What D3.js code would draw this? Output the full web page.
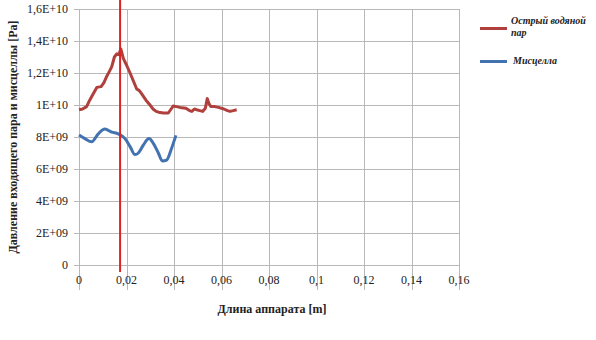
<!DOCTYPE html>
<html><head><meta charset="utf-8">
<script src="https://cdn.jsdelivr.net/npm/d3@7"></script>
</head><body style="margin:0"><svg id="c" width="596" height="340" style="display:block;background:#fff;font-family:'Times New Roman','Liberation Serif',FreeSerif,serif"></svg>
<script>
const xTicks = [0,0.02,0.04,0.06,0.08,0.1,0.12,0.14,0.16];
const xTickLabels = ["0","0,02","0,04","0,06","0,08","0,1","0,12","0,14","0,16"];
const yTicks = [0,2e9,4e9,6e9,8e9,1e10,1.2e10,1.4e10,1.6e10];
const yTickLabels = ["0","2E+09","4E+09","6E+09","8E+09","1E+10","1,2E+10","1,4E+10","1,6E+10"];
const seriesNames = ["Острый водяной пар","Мисцелла"];
const steamX = [0,0.0015,0.0032,0.0045,0.006,0.0075,0.0093,0.0105,0.0117,0.0128,0.0138,0.0149,0.0159,0.0168,0.0176,0.0187,0.02,0.0215,0.0229,0.0243,0.0254,0.0264,0.0282,0.0299,0.0313,0.0325,0.0335,0.0355,0.0376,0.0388,0.0397,0.041,0.0425,0.045,0.0465,0.0475,0.0486,0.0496,0.0508,0.0521,0.0532,0.054,0.0547,0.0555,0.0572,0.0587,0.061,0.0625,0.0636,0.065,0.0664];
const steamY = [9.7e9,9.75e9,9.9e9,10.3e9,10.7e9,11.1e9,11.15e9,11.4e9,11.8e9,12.1e9,12.4e9,13.0e9,13.2e9,13.15e9,13.5e9,12.9e9,12.5e9,12.0e9,11.5e9,11.0e9,10.9e9,10.7e9,10.3e9,10.0e9,9.73e9,9.6e9,9.55e9,9.5e9,9.5e9,9.75e9,9.94e9,9.9e9,9.85e9,9.8e9,9.65e9,9.6e9,9.75e9,9.7e9,9.65e9,9.6e9,9.8e9,10.4e9,10.1e9,9.9e9,9.9e9,9.85e9,9.75e9,9.65e9,9.6e9,9.65e9,9.7e9];
const miscX = [0,0.0025,0.0053,0.0081,0.0109,0.0138,0.0165,0.0194,0.0215,0.0236,0.025,0.0271,0.0295,0.0313,0.0334,0.0351,0.0369,0.039,0.0408];
const miscY = [8.13e9,7.9e9,7.7e9,8.2e9,8.5e9,8.3e9,8.2e9,7.9e9,7.4e9,6.9e9,7.0e9,7.5e9,7.9e9,7.6e9,7.0e9,6.5e9,6.56e9,7.3e9,8.1e9];
const markerX = [0.0173];

const svg = d3.select("#c");
const x = d3.scaleLinear().domain([0,0.16]).range([79,459]);
const y = d3.scaleLinear().domain([0,1.6e10]).range([265,9]);
const SERIF = "'Times New Roman','Liberation Serif',FreeSerif,serif";

// grid
svg.append("g").selectAll("line").data(yTicks).join("line")
  .attr("x1",74).attr("x2",459).attr("y1",d=>y(d)+0.5).attr("y2",d=>y(d)+0.5)
  .attr("stroke","#b8b8b8").attr("stroke-width",1);
svg.append("g").selectAll("line").data(xTicks).join("line")
  .attr("x1",d=>Math.round(x(d))+0.5).attr("x2",d=>Math.round(x(d))+0.5).attr("y1",9).attr("y2",290)
  .attr("stroke","#b8b8b8").attr("stroke-width",1);

// tick labels
svg.append("g").selectAll("text").data(yTicks).join("text")
  .attr("x",68).attr("y",d=>y(d)+4).attr("text-anchor","end")
  .attr("style",`font-family:${SERIF};font-size:12px`).attr("fill","#222")
  .text((d,i)=>yTickLabels[i]);
svg.append("g").selectAll("text").data(xTicks).join("text")
  .attr("x",d=>x(d)).attr("y",284).attr("text-anchor","middle")
  .attr("style",`font-family:${SERIF};font-size:12px`).attr("fill","#222")
  .text((d,i)=>xTickLabels[i]);

// axis titles
svg.append("text").attr("x",272).attr("y",313).attr("text-anchor","middle")
  .attr("style",`font-family:${SERIF};font-size:12px;font-weight:bold`).attr("fill","#222")
  .text("Длина аппарата [m]");
svg.append("text").attr("transform","translate(17,137) rotate(-90)").attr("text-anchor","middle")
  .attr("style",`font-family:${SERIF};font-size:12px;font-weight:bold`).attr("fill","#222")
  .text("Давление входящего пара и мисцеллы [Pa]");

const line = d3.line().x(d=>x(d[0])).y(d=>y(d[1]));
const steam = steamX.map((v,i)=>[v,steamY[i]]);
const misc = miscX.map((v,i)=>[v,miscY[i]]);
svg.append("path").datum(steam).attr("d",line).attr("fill","none")
  .attr("stroke","#b0403c").attr("stroke-width",3).attr("stroke-linejoin","round");
svg.append("path").datum(misc).attr("d",line.curve(d3.curveMonotoneX)).attr("fill","none")
  .attr("stroke","#4272b0").attr("stroke-width",3).attr("stroke-linejoin","round");

// marker line
svg.append("g").selectAll("line").data(markerX).join("line")
  .attr("x1",d=>x(d)).attr("x2",d=>x(d)).attr("y1",0).attr("y2",272)
  .attr("stroke","#dd2222").attr("stroke-width",2);

// legend
const lg = svg.append("g");
const legStyle = s => s.attr("style",`font-family:${SERIF};font-size:10px;font-style:italic;font-weight:bold`).attr("fill","#222");
lg.append("line").attr("x1",480).attr("x2",507).attr("y1",28.5).attr("y2",28.5).attr("stroke","#b0403c").attr("stroke-width",3);
lg.append("text").attr("x",511).attr("y",24).call(legStyle).text("Острый водяной");
lg.append("text").attr("x",511).attr("y",36).call(legStyle).text("пар");
lg.append("line").attr("x1",480).attr("x2",507).attr("y1",61.5).attr("y2",61.5).attr("stroke","#4272b0").attr("stroke-width",3);
lg.append("text").attr("x",513).attr("y",64).call(legStyle).text("Мисцелла");
</script></body></html>
